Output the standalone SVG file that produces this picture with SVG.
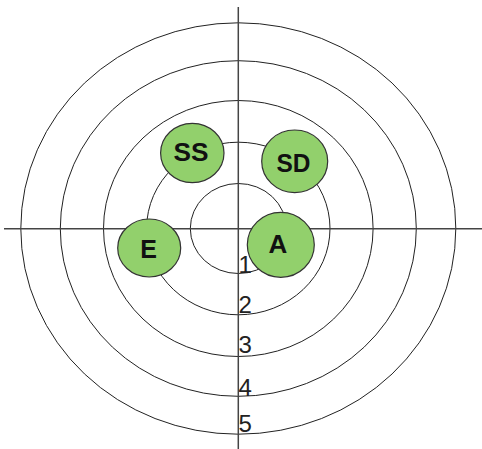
<svg xmlns="http://www.w3.org/2000/svg" width="482" height="449" viewBox="0 0 482 449">
<style>
.ring{fill:none;stroke:#222;stroke-width:1}
.axis{stroke:#444;stroke-width:1.5}
.node ellipse{fill:#92d06c;stroke:#333;stroke-width:1.2}
.lbl{font-family:"Liberation Sans",Arial,sans-serif;font-weight:bold;font-size:25px;fill:#111;text-anchor:middle}
.num{font-family:"Liberation Sans",Arial,sans-serif;font-size:24px;fill:#222}
</style>
<rect width="482" height="449" fill="#fff"/>
<g id="rings">
<ellipse class="ring" cx="238.3" cy="228.5" rx="217.5" ry="205.7"/>
<ellipse class="ring" cx="238.3" cy="228.5" rx="178" ry="167.8"/>
<ellipse class="ring" cx="238.3" cy="228.5" rx="134.8" ry="128"/>
<ellipse class="ring" cx="238.3" cy="228.5" rx="91.7" ry="86.3"/>
<ellipse class="ring" cx="238.3" cy="228.5" rx="48" ry="45"/>
</g>
<g id="axes">
<line class="axis" x1="238.3" y1="7" x2="238.3" y2="449"/>
<line class="axis" x1="4" y1="228.7" x2="482" y2="228.7"/>
</g>
<g id="node-SS" class="node"><ellipse cx="192.3" cy="153" rx="31.7" ry="29.7"/><text class="lbl" x="191" y="161" textLength="35" lengthAdjust="spacingAndGlyphs">SS</text></g>
<g id="node-SD" class="node"><ellipse cx="294.7" cy="161.3" rx="33" ry="31.3"/><text class="lbl" x="293.5" y="172" textLength="34" lengthAdjust="spacingAndGlyphs">SD</text></g>
<g id="node-E" class="node"><ellipse cx="149.2" cy="248" rx="31.5" ry="29"/><text class="lbl" x="148.5" y="258">E</text></g>
<g id="node-A" class="node"><ellipse cx="280.8" cy="244.8" rx="33.5" ry="32.5"/><text class="lbl" x="278" y="253" style="font-size:26px">A</text></g>
<g id="scale">
<text class="num" x="238.5" y="272.5">1</text>
<text class="num" x="238.5" y="313.3">2</text>
<text class="num" x="238.5" y="353">3</text>
<text class="num" x="238.5" y="396">4</text>
<text class="num" x="238.5" y="432.3">5</text>
</g>
</svg>
